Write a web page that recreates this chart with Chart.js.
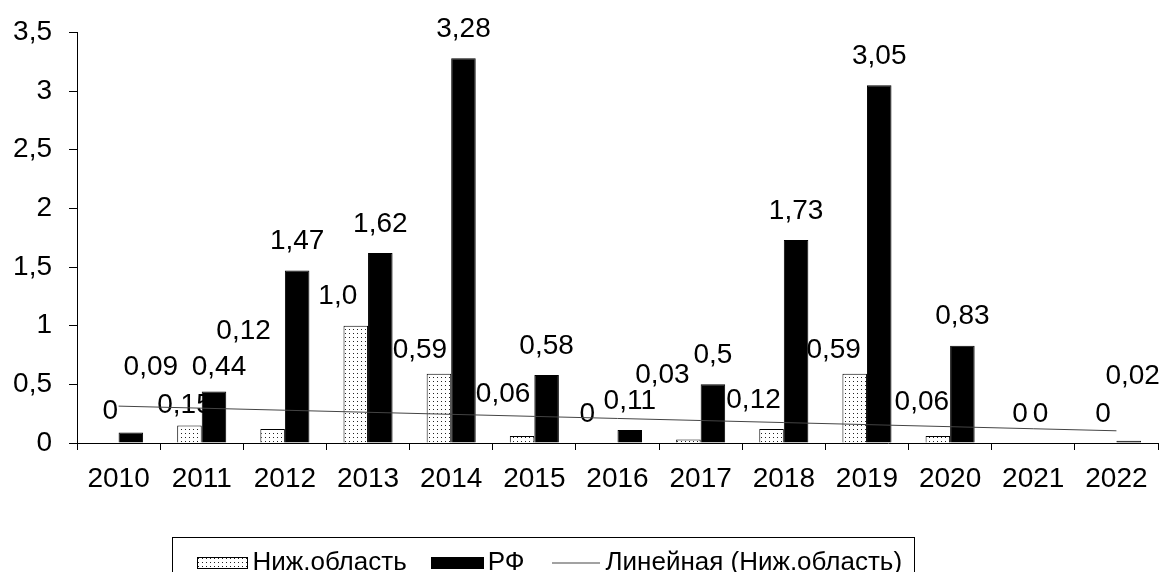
<!DOCTYPE html>
<html>
<head>
<meta charset="utf-8">
<script src="https://cdn.jsdelivr.net/npm/chart.js@4"></script>
<style>
  body { margin: 0; background: #fff; }
</style>
</head>
<body>
<canvas id="myChart" width="1165" height="572"></canvas>
<script>
// Years along the x-axis
var years = ["2010","2011","2012","2013","2014","2015","2016","2017","2018","2019","2020","2021","2022"];
// Bar values
var nizh = [0, 0.15, 0.12, 1.0, 0.59, 0.06, 0, 0.03, 0.12, 0.59, 0.06, 0, 0];
var rf = [0.09, 0.44, 1.47, 1.62, 3.28, 0.58, 0.11, 0.5, 1.73, 3.05, 0.83, 0, 0.02];
// Y axis range
var yMax = 3.5;
var yStep = 0.5;

// least squares trend for the regional series
function linearTrend(values) {
  var n = values.length, sx = 0, sy = 0, sxy = 0, sxx = 0;
  values.forEach(function (v, i) {
    var x = i + 1;
    sx += x; sy += v; sxy += x * v; sxx += x * x;
  });
  var b = (n * sxy - sx * sy) / (n * sxx - sx * sx);
  var a = (sy - b * sx) / n;
  return values.map(function (v, i) { return a + b * (i + 1); });
}

function fmt(v) {
  var s = (Number.isInteger(v) && v > 0) ? v.toFixed(1) : String(v);
  return s.replace(".", ",");
}

// dotted fill for the regional bars
function dotPattern() {
  var c = document.createElement("canvas");
  c.width = 4; c.height = 4;
  var g = c.getContext("2d");
  g.fillStyle = "#fff";
  g.fillRect(0, 0, 4, 4);
  g.fillStyle = "#222";
  g.fillRect(1, 1, 1, 1);
  return g.createPattern(c, "repeat");
}

// small canvases used as legend markers
function swatch(w, h, fill) {
  var c = document.createElement("canvas");
  c.width = w; c.height = h;
  var g = c.getContext("2d");
  g.fillStyle = fill;
  g.fillRect(0, 0, w, h);
  g.strokeStyle = "#000";
  g.lineWidth = 1;
  g.strokeRect(0.5, 0.5, w - 1, h - 1);
  return c;
}
function lineMark(w, color) {
  var c = document.createElement("canvas");
  c.width = w; c.height = 3;
  var g = c.getContext("2d");
  g.fillStyle = color;
  g.fillRect(0, 1, w, 1);
  return c;
}

var FONT = "'Liberation Sans', Arial, sans-serif";
var TREND = "#444";

// where value labels sit relative to the top of each bar
var labelPos = [
  { dx: -18, dy: -29, extra: {0: [22, -3], 1: [13, 9], 2: [-11, -69], 4: [-1, 5], 5: [-1, -13], 7: [-8, -35], 9: [-3, 5], 10: [2, -5], 11: [17, 0], 12: [17, 0]} },
  { dx: 0, dy: -29, extra: {0: [20, -36], 1: [5, 5], 11: [-5, 0], 12: [4, -35]} }
];

// labels go under the bars, so neighbouring bars may hide part of them
var valueLabels = {
  id: "valueLabels",
  beforeDatasetsDraw: function (chart) {
    var ctx = chart.ctx;
    ctx.save();
    ctx.font = "28px " + FONT;
    ctx.fillStyle = "#000";
    ctx.textAlign = "center";
    ctx.textBaseline = "middle";
    [0, 1].forEach(function (di) {
      var meta = chart.getDatasetMeta(di);
      var vals = chart.data.datasets[di].data;
      var p = labelPos[di];
      meta.data.forEach(function (bar, i) {
        var e = p.extra[i] || [0, 0];
        ctx.fillText(fmt(vals[i]), bar.x + p.dx + e[0], bar.y + p.dy + e[1]);
      });
    });
    ctx.restore();
  }
};

// move the legend row into place and frame it
var legendFrame = {
  id: "legendFrame",
  afterLayout: function (chart) {
    var lg = chart.legend;
    lg.left = 171.5;
    lg.top = 516;
  },
  afterDraw: function (chart) {
    var lg = chart.legend;
    var ctx = chart.ctx;
    var x0 = Math.round(lg.left) + 0.5;
    var x1 = lg.left + (lg.lineWidths ? lg.lineWidths[0] : 700) + 12;
    var y0 = Math.round(lg.top + 21) + 0.5;
    ctx.save();
    ctx.strokeStyle = "#000";
    ctx.lineWidth = 1;
    ctx.strokeRect(x0, y0, Math.round(x1 - x0), chart.height);
    ctx.restore();
  }
};

var markers = [swatch(51, 12, dotPattern()), swatch(53, 12, "#000"), lineMark(48, TREND)];

var ctx = document.getElementById("myChart");
var myChart = new Chart(ctx, {
  type: "bar",
  data: {
    labels: years,
    datasets: [
      {
        label: "Ниж.область",
        data: nizh,
        backgroundColor: dotPattern(),
        borderColor: "#000",
        borderWidth: 1,
        order: 2
      },
      {
        label: "РФ",
        data: rf,
        backgroundColor: "#000",
        borderColor: "#000",
        borderWidth: 1,
        order: 2
      },
      {
        type: "line",
        label: "Линейная (Ниж.область)",
        data: linearTrend(nizh),
        borderColor: TREND,
        backgroundColor: TREND,
        borderWidth: 1,
        pointRadius: 0,
        tension: 0,
        order: 1
      }
    ]
  },
  options: {
    responsive: false,
    animation: false,
    layout: { padding: { top: 25, right: 7, left: 0, bottom: 0 } },
    datasets: {
      bar: { categoryPercentage: 0.59, barPercentage: 1 }
    },
    scales: {
      x: {
        grid: { drawOnChartArea: false, drawTicks: true, tickLength: 7, color: "#000" },
        border: { color: "#000", width: 1 },
        ticks: { color: "#000", font: { family: FONT, size: 28 }, padding: 12, maxRotation: 0 },
        afterFit: function (scale) { scale.height = 59; }
      },
      y: {
        min: 0,
        max: yMax,
        grid: { drawOnChartArea: false, drawTicks: true, tickLength: 8, color: "#000" },
        border: { color: "#000", width: 1 },
        ticks: {
          stepSize: yStep,
          color: "#000",
          font: { family: FONT, size: 28, lineHeight: 1.1 },
          padding: 17,
          callback: function (v) { return String(v).replace(".", ","); }
        },
        afterFit: function (scale) { scale.width = 77; }
      }
    },
    plugins: {
      tooltip: { enabled: false },
      legend: {
        position: "bottom",
        align: "start",
        labels: {
          color: "#000",
          font: { family: FONT, size: 26 },
          usePointStyle: true,
          pointStyleWidth: 34,
          padding: 34,
          sort: function (a, b) { return a.datasetIndex - b.datasetIndex; },
          generateLabels: function (chart) {
            var items = Chart.defaults.plugins.legend.labels.generateLabels(chart);
            items.forEach(function (it) {
              it.pointStyle = markers[it.datasetIndex];
            });
            return items;
          }
        }
      }
    }
  },
  plugins: [valueLabels, legendFrame]
});
</script>
</body>
</html>
